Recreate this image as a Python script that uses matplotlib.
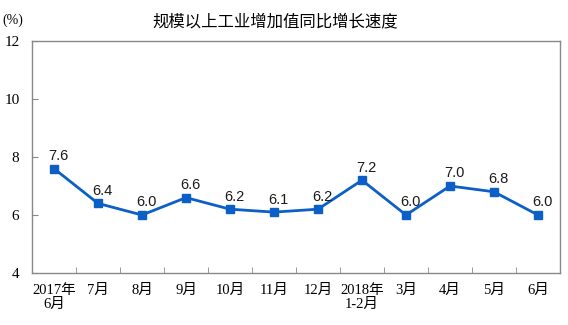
import matplotlib
matplotlib.use("Agg")
import matplotlib.pyplot as plt

categories = ["2017年\n6月", "7月", "8月", "9月", "10月", "11月", "12月",
              "2018年\n1-2月", "3月", "4月", "5月", "6月"]
values = [7.6, 6.4, 6.0, 6.6, 6.2, 6.1, 6.2, 7.2, 6.0, 7.0, 6.8, 6.0]
yticks = [4, 6, 8, 10, 12]
title = "规模以上工业增加值同比增长速度"

serif_cjk = ["Liberation Serif", "Noto Sans CJK SC"]
color = "#0B5FC6"

fig = plt.figure(figsize=(5.68, 3.25), dpi=100)
ax = fig.add_axes([32/568, 52/325, 528/568, 232/325])

x = list(range(len(values)))
ax.plot(x, values, color=color, lw=2, marker="s", ms=6, zorder=3)
for xi, v in zip(x, values):
    ax.annotate(f"{v:.1f}", (xi, v), xytext=(3, 4), textcoords="offset points",
                ha="center", va="bottom", fontsize=10.5, family="Liberation Sans",
                color="#1a1a1a")

ax.set_xlim(-0.5, len(values) - 0.5)
ax.set_ylim(4, 12)
ax.set_yticks(yticks)
ax.set_yticklabels([str(t) for t in yticks], family="Liberation Serif", fontsize=11)
ax.set_xticks(x)
ax.set_xticklabels(categories, family=serif_cjk, fontsize=10.5, linespacing=1.1)
ax.set_xticks([i + 0.5 for i in x[:-1]], minor=True)
ax.tick_params(axis="x", which="major", length=0, pad=8)
ax.tick_params(axis="x", which="minor", direction="in", length=4, color="#888888")
ax.tick_params(axis="y", direction="in", length=4, color="#888888", pad=9)
for s in ax.spines.values():
    s.set_color("#888888")
    s.set_linewidth(1)

fig.text(275/568, 1 - 22/325, title, ha="center", va="center", fontsize=11.8,
         family=["Noto Sans CJK SC", "DejaVu Sans"])
fig.text(13/568, 1 - 20/325, "(%)", ha="center", va="center", fontsize=10,
         family="Liberation Serif")

fig.savefig("out.png", dpi=100)
